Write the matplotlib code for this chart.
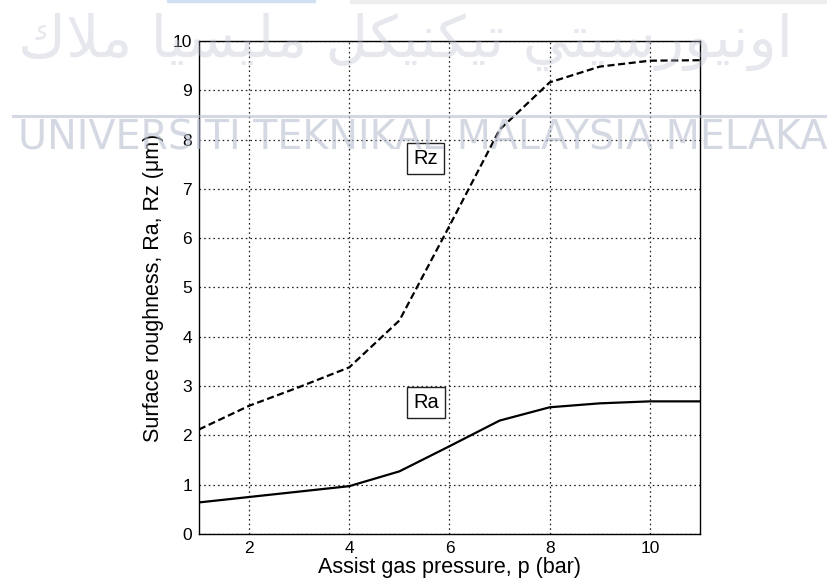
import numpy as np
import matplotlib
matplotlib.use("Agg")
import matplotlib.pyplot as plt
from matplotlib.patches import Rectangle

plt.rcParams['font.family'] = ['Liberation Sans', 'DejaVu Sans']

# data
pressure = [1, 2, 3, 4, 5, 6, 7, 8, 9, 10, 11]
rz = [2.12, 2.6, 2.98, 3.38, 4.33, 6.25, 8.2, 9.16, 9.48, 9.6, 9.61]
ra = [0.64, 0.75, 0.86, 0.97, 1.27, 1.78, 2.3, 2.57, 2.65, 2.69, 2.69]
xticks = [2, 4, 6, 8, 10]
yticks = list(range(0, 11))

# watermark text (Jawi, in shaped presentation forms, reversed to visual order)
jawi = "ﺍﻭﻧﻴﻮﺭﺳﻴﺘﻲ ﺗﻴﻜﻨﻴﻜﻞ ﻣﻠﻴﺴﻴﺎ ﻣﻼﻙ"
jawi_visual = jawi[::-1]
uni = "UNIVERSITI TEKNIKAL MALAYSIA MELAKA"

fig = plt.figure(figsize=(8.27, 5.82), dpi=100)
fig.patch.set_facecolor('white')
ax = fig.add_axes([0.2406, 0.0825, 0.6058, 0.8471])

ax.plot(pressure, rz, color='black', lw=1.6, linestyle=(0, (3.2, 1.6)))
ax.plot(pressure, ra, color='black', lw=1.6)

ax.set_xlim(1, 11)
ax.set_ylim(0, 10)
ax.set_xticks(xticks)
ax.set_yticks(yticks)
ax.tick_params(direction='in', length=0, labelsize=12.5, pad=5)
ax.grid(True, color='#222222', lw=0.9, linestyle=(0, (1.3, 2.4)))
for s in ax.spines.values():
    s.set_linewidth(1.0)
    s.set_color('black')

ax.set_xlabel("Assist gas pressure, p (bar)", fontsize=15.5, labelpad=1)
ax.set_ylabel("Surface roughness, Ra, Rz (\u03bcm)", fontsize=15.5, labelpad=6)

box = dict(boxstyle='square,pad=0.3', facecolor='white', edgecolor='#222222', lw=1.0)
ax.text(5.27, 7.62, "Rz", fontsize=14.5, ha='left', va='center', bbox=box)
ax.text(5.27, 2.66, "Ra", fontsize=14.5, ha='left', va='center', bbox=box)

# slide remnants along the top edge
fig.patches.append(Rectangle((167 / 827, 1 - 2 / 582), 148 / 827, 2 / 582,
                             transform=fig.transFigure, color='#cfe0f0', zorder=0))
fig.patches.append(Rectangle((350 / 827, 1 - 3 / 582), 477 / 827, 3 / 582,
                             transform=fig.transFigure, color='#eeeeee', zorder=0))

# watermark overlay
wm = '#b8bfcf'
fig.add_artist(plt.Line2D([13 / 827, 1.0], [1 - 116 / 582] * 2, transform=fig.transFigure,
                          color=wm, lw=2.2, alpha=0.6, zorder=10))
fig.text(18 / 827, 1 - 138 / 582, uni, ha='left', va='center', fontsize=28.5,
         color=wm, alpha=0.6, zorder=10, family=['DejaVu Sans'])
fig.text(405 / 827, 1 - 42 / 582, jawi_visual, ha='center', va='center', fontsize=42,
         color=wm, alpha=0.35, zorder=10, family=['DejaVu Sans'])

fig.savefig("out.png", dpi=100, facecolor='white')
